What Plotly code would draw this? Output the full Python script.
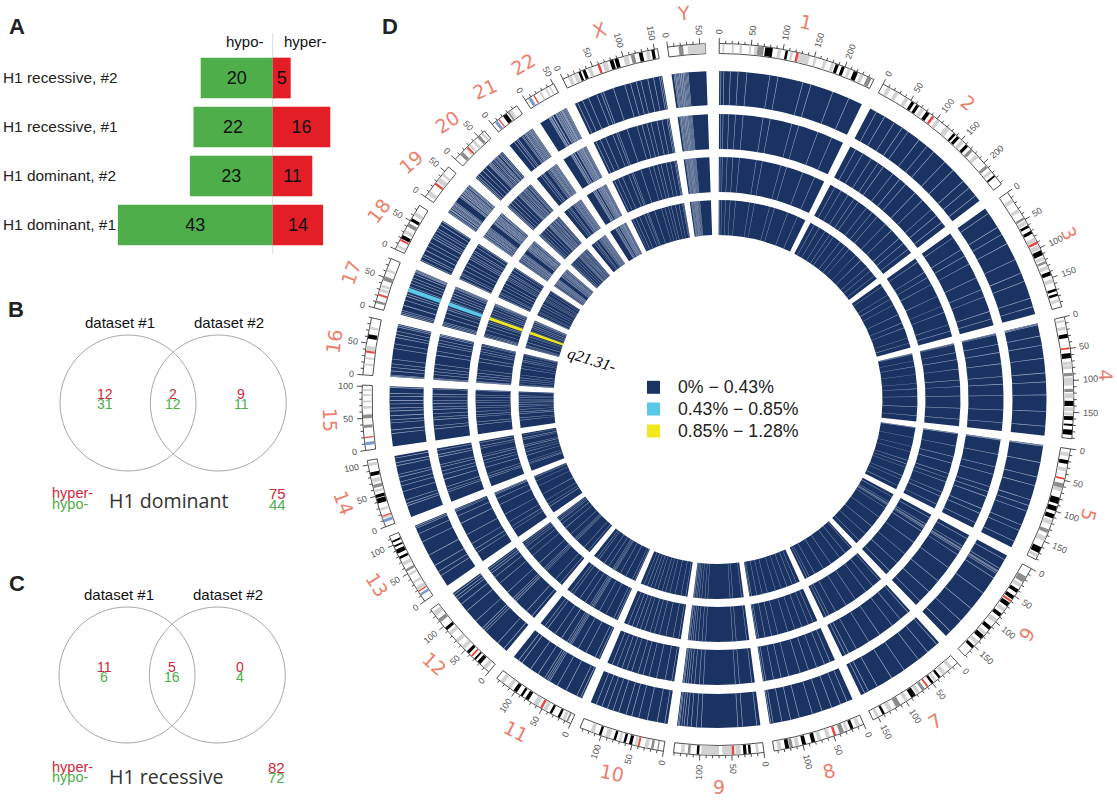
import math
import plotly.graph_objects as go

# ---------- Panel A ----------
bar_labels = ["H1 dominant, #1", "H1 dominant, #2", "H1 recessive, #1", "H1 recessive, #2"]
hypo_counts = [43, 23, 22, 20]
hyper_counts = [14, 11, 16, 5]

# ---------- Panels B, C ----------
venn_b_hyper = [12, 2, 9]
venn_b_hypo = [31, 12, 11]
venn_b_total = [75, 44]
venn_c_hyper = [11, 5, 0]
venn_c_hypo = [6, 16, 4]
venn_c_total = [82, 72]

# ---------- Panel D ----------
chrom_names = ["1","2","3","4","5","6","7","8","9","10","11","12","13","14","15","16","17","18","19","20","21","22","X","Y"]
chrom_sizes = [249,243,198,191,181,171,159,146,141,135,135,133,115,107,102,90,81,78,59,63,48,51,155,59]
chrom_label_rot = [13,40,63,88,105,122,-32,-15,0,12,27,42,58,70,88,-82,-70,-52,-42,-33,-24,-30,-17,-5]

band_black = [
 [[72,84],[104,108],[185,190],[195,200],[215,222]],
 [[52,57],[61,66],[80,86],[134,138],[141,146],[160,165],[225,228]],
 [[60,64],[70,75],[104,112],[140,146],[168,172],[176,180]],
 [[27,33],[57,65],[132,140],[156,162],[168,171],[177,185]],
 [[18,24],[78,88],[92,100],[105,112],[160,170]],
 [[38,44],[50,56],[63,70],[84,90],[110,116],[128,135],[150,155]],
 [[34,38],[48,52],[82,90],[138,142]],
 [[17,22],[80,86],[95,101],[122,128]],
 [[20,24],[27,32],[101,105]],
 [[50,55],[60,64],[76,80],[100,104]],
 [[19,23],[33,37],[75,81],[86,90],[97,103]],
 [[18,24],[28,31],[42,47],[92,97]],
 [[76,80],[85,92],[96,99],[104,107]],
 [[38,46],[47,52],[82,88]],
 [],
 [[57,64]],
 [],
 [[19,25],[50,55]],
 [],
 [],
 [[21,28]],
 [],
 [[26,30],[33,38],[78,84],[86,92],[125,131],[145,150]],
 [],
]
band_dark = [
 [[60,70],[238,245]],
 [[170,175],[205,210]],
 [[46,50],[122,126]],
 [[88,93],[113,118]],
 [[55,62],[130,136]],
 [[15,25]],
 [[65,70],[110,118]],
 [[33,40],[116,121]],
 [[115,119]],
 [[8,10],[16,20]],
 [[5,8]],
 [[108,114]],
 [[54,58]],
 [[63,68]],
 [[35,40],[50,56]],
 [],
 [[8,12],[45,52]],
 [[40,46]],
 [],
 [[10,16],[48,53]],
 [[30,33]],
 [],
 [[112,118]],
 [[17,24]],
]
band_light = [
 [[5,8],[20,23],[32,36],[47,50],[55,60],[92,97],[112,116],[125,143],[150,154],[165,170],[178,183],[205,210],[226,232]],
 [[8,14],[22,28],[40,46],[70,76],[100,106],[118,126],[150,156],[182,188],[215,220]],
 [[12,18],[30,36],[52,58],[82,88],[95,102],[115,120],[130,136],[152,158],[185,190]],
 [[4,8],[15,20],[70,75],[76,82],[95,108],[120,128],[142,148],[150,155]],
 [[6,12],[30,36],[62,68],[115,122],[142,150],[172,177]],
 [[28,34],[58,62],[74,80],[95,102],[122,126],[140,146]],
 [[10,16],[24,30],[42,46],[74,80],[96,102],[125,132],[148,153]],
 [[6,12],[26,30],[56,62],[70,76],[106,112],[134,140]],
 [[8,12],[36,44],[50,65],[70,98],[124,130]],
 [[24,30],[42,46],[68,72],[86,94],[112,118]],
 [[10,15],[42,48],[58,66],[108,114],[122,128]],
 [[6,12],[52,58],[66,72],[82,88],[120,128]],
 [[19,26],[32,36],[46,50],[64,70]],
 [[13,16],[26,30],[56,60],[72,78],[98,103]],
 [[65,69],[75,78],[85,88],[93,96]],
 [[15,18],[25,28],[38,46],[72,76]],
 [[27,32],[34,38],[60,64]],
 [[4,8],[28,34],[60,66]],
 [[5,12],[30,38],[42,46]],
 [[22,25],[30,33],[38,42],[56,60]],
 [[34,38]],
 [[25,28],[35,38],[42,45]],
 [[8,14],[18,24],[42,48],[66,74],[100,108],[136,142]],
 [[31,59]],
]
band_centromere = [[121,125],[91,95],[89,93],[48,51],[46,49],[58,61],[58,61],[46,50],[46,50],[38,41],[50,54],[35,38],[17,19],[16,18],[19,21],[35,38],[20,23],[15,18],[24,28],[25,28],[12,14],[14,16],[58,62]]
band_stalk_chrom = [12, 13, 14, 20, 21]
band_stalk = [[10,14],[7,12],[8,13],[5,10],[5,10]]

light_lines = [
 [3,8,19,32,47,86,100,143,157,196,225],
 [12,28,47,63,75,98,115,130,155,175,200,215,232],
 [10,38,52,70,100,125,140,170,185],
 [1,3,22,38,60,85,100,122,150,175],
 [1,2,30,55,70,95,105,115,140,150,170],
 [8,25,35,44,75,108,135,160],
 [5,25,45,75,100,128,145,152],
 [10,22,38,55,72,95,110,125,140,144],
 [6,30,38,100,108,117,124,129,133,137,139],
 [5,18,35,50,62,72,85,95,105,115,125],
 [3,10,30,47,62,65,68,72,85,100,118,125],
 [6,20,48,52,56,72,95,110,120,125,130],
 [20,28,40,60,85,100,110,113],
 [20,24,30,45,55,62,70,75,90,95,103],
 [22,28,40,45,52,60,65,72,78,85,90,100],
 [1,3,10,16,22,30,48,56,67,72,78,85,88],
 [2,5,8,17,26,33,37,50,56,61,66,72,76,78,80],
 [2,8,12,20,28,35,44,48,52,58,62,70,76],
 [1,3,6,7,10,11,13,15,17,18,20,22,33,35,36,39,40,42,44,45,47,49,50,52,55,56,58],
 [2,5,10,17,24,31,33,35,37,40,43,45,48,50,52,56,58,61],
 [10,15,18,26,28,31,33,34,36,38,40,42,43],
 [17,18,20,21,24,25,30,31,33,35,36,38,39,41,42,43,44,46,50],
 [5,14,25,40,48,52,70,90,100,110,118,130,140,150,153],
 [4,6,7,9,11,13,14,16,17,19,20,22,24,26,28],
]
dim_chrom = [5, 20, 21]
dim_bands = [[29,33],[44,48],[47,50]]

highlight_chrom = 16
highlight_band = [40.5, 48]
legend_labels = ["0% − 0.43%", "0.43% − 0.85%", "0.85% − 1.28%"]
legend_colors = ["#1b3362", "#5bc8e8", "#f2e81e"]

# ---------- layout constants ----------
W, H = 1117, 800
CX, CY, RMAX = 718, 399.5, 399
SCALE, GAP, START = 0.1035, 1.65, 0.2
RINGS = [(294.5, 328.5), (250.5, 285.5), (207.5, 242.5), (164.5, 199.5)]
IDEO = (346, 356)
RED, GREEN = "#e41e26", "#4dae4a"
LINE_RED, LINE_GREEN = "#d3263a", "#4dae4a"
SALMON = "#ec7f6c"
LINE_COLOR = "#a3b0c8"

starts, a = [], START
for s in chrom_sizes:
    starts.append(a)
    a += s * SCALE + GAP


def th(c, mb):
    return starts[c] + mb * SCALE


fig = go.Figure()


def polar_bars(items, r0, r1, color, outline=None):
    """items = (chrom, start_mb, end_mb)"""
    fig.add_trace(go.Barpolar(
        theta=[th(c, (s + e) / 2) for c, s, e in items],
        width=[(e - s) * SCALE for c, s, e in items],
        base=[r0] * len(items), r=[r1 - r0] * len(items),
        marker=dict(color=color, line=dict(width=0.8 if outline else 0, color=outline or color)),
        hoverinfo="skip", showlegend=False, subplot="polar"))


# rings
whole = [(i, 0, s) for i, s in enumerate(chrom_sizes)]
line_items = [(i, m - 0.55, m + 0.55) for i, ms in enumerate(light_lines) for m in ms]
dim_items = [(c, b[0], b[1]) for c, b in zip(dim_chrom, dim_bands)]
for idx, (r0, r1) in enumerate(RINGS):
    polar_bars(whole, r0, r1, legend_colors[0])
    polar_bars(line_items, r0, r1, LINE_COLOR)
    polar_bars(dim_items, r0, r1, "#6f7f9c")
    polar_bars([(highlight_chrom, highlight_band[0], highlight_band[1])], r0, r1,
               legend_colors[1] if idx < 2 else legend_colors[2])

# ideogram
polar_bars(whole, IDEO[0], IDEO[1], "white", outline="#222222")
i0, i1 = IDEO[0] + 0.5, IDEO[1] - 0.5
polar_bars([(i, s, e) for i, bs in enumerate(band_light) for s, e in bs], i0, i1, "#d2d2d2")
polar_bars([(i, s, e) for i, bs in enumerate(band_dark) for s, e in bs], i0, i1, "#8c8c8c")
polar_bars([(i, s, e) for i, bs in enumerate(band_black) for s, e in bs], i0, i1, "#000000")
polar_bars([(c, b[0], b[1]) for c, b in zip(band_stalk_chrom, band_stalk)], i0, i1, "#7f9cc8")
polar_bars([(i, b[0], b[1]) for i, b in enumerate(band_centromere)], i0, i1, "#e8483f")

# ideogram ticks
tr, tt = [], []
for i, s in enumerate(chrom_sizes):
    for mb in range(0, s + 1, 10):
        tr += [IDEO[1], IDEO[1] + (5.5 if mb % 50 == 0 else 2.8), None]
        tt += [th(i, mb), th(i, mb), None]
fig.add_trace(go.Scatterpolar(r=tr, theta=tt, mode="lines", line=dict(color="#222222", width=0.8),
                              hoverinfo="skip", showlegend=False, subplot="polar"))

# Panel A bars
fig.add_trace(go.Bar(y=bar_labels, x=[-v for v in hypo_counts], orientation="h", width=0.83,
                     marker=dict(color=GREEN, line=dict(width=0)), text=[str(v) for v in hypo_counts],
                     textposition="inside", insidetextanchor="middle", textangle=0,
                     textfont=dict(size=18, color="#111111", family="Liberation Sans"),
                     hoverinfo="skip", showlegend=False, xaxis="x", yaxis="y"))
fig.add_trace(go.Bar(y=bar_labels, x=hyper_counts, orientation="h", width=0.83,
                     marker=dict(color=RED, line=dict(width=0)), text=[str(v) for v in hyper_counts],
                     textposition="inside", insidetextanchor="middle", textangle=0,
                     textfont=dict(size=18, color="#111111", family="Liberation Sans"),
                     hoverinfo="skip", showlegend=False, xaxis="x", yaxis="y"))

# Legend keys on overlay axes
legend_y = [387.3, 409, 431]
fig.add_trace(go.Scatter(x=[653.5] * 3, y=legend_y, mode="markers",
                         marker=dict(symbol="square", size=13, color=legend_colors, line=dict(width=0)),
                         hoverinfo="skip", showlegend=False, xaxis="x2", yaxis="y2"))

annotations = []


def note(x, y, text, size, color="#111111", family="Liberation Sans", rot=0, anchor="center", **fontkw):
    annotations.append(dict(x=x / W, y=1 - y / H, xref="paper", yref="paper", text=text, showarrow=False,
                            xanchor=anchor, yanchor="middle", textangle=rot, borderpad=0,
                            font=dict(size=size, color=color, family=family, **fontkw)))


def polar_xy(r, theta):
    t = math.radians(theta)
    return CX + r * math.sin(t), CY - r * math.cos(t)


# chromosome & tick labels
for i, s in enumerate(chrom_sizes):
    mid = th(i, s / 2)
    x, y = polar_xy(388, mid)
    note(x, y, chrom_names[i], 19, SALMON, "DejaVu Sans", rot=chrom_label_rot[i])
    for mb in range(0, s + 1, 50):
        t = th(i, mb)
        lab = str(mb)
        x, y = polar_xy(365 + len(lab) * 2.6, t)
        note(x, y, lab, 9, "#555555", rot=(t - 90 if t < 180 else t - 270))

note(591, 360, "q21.31-", 16, "#000000", "Liberation Serif", rot=17, style="italic")
for lab, y in zip(legend_labels, legend_y):
    note(676.5, y, lab, 17.7, "#222222", anchor="left")

# panel letters
for t, x, y in [("A", 17, 27), ("B", 16, 310), ("C", 17, 583), ("D", 390, 27)]:
    note(x, y, "<b>%s</b>" % t, 22, "#222222")
note(245, 41, "hypo-", 15)
note(305, 41, "hyper-", 15)

# Venn panels
venn_sets = [
    (403, 322, 394, 404, 493, 504, 500.5, "H1 dominant", venn_b_hyper, venn_b_hypo, venn_b_total, 128, 218.3, 120, 229, [105, 173, 241], 277),
    (675, 594, 667, 677, 767, 777, 776, "H1 recessive", venn_c_hyper, venn_c_hypo, venn_c_total, 127, 217.3, 119, 228, [104, 172, 240], 276),
]
shapes = [dict(type="line", xref="x", yref="paper", x0=0, x1=0, y0=1 - 33 / H, y1=1 - 254 / H,
               line=dict(color="#dddddd", width=1), layer="below")]
for cy, ty, hy, gy, ly1, ly2, ty2, title, vh, vg, tot, c1, c2, d1, d2, xs, xr in venn_sets:
    for cx in (c1, c2):
        shapes.append(dict(type="circle", xref="x2", yref="y2", x0=cx - 68, x1=cx + 68, y0=cy - 68, y1=cy + 68,
                           line=dict(color="#a8a8a8", width=1), fillcolor="rgba(0,0,0,0)"))
    note(d1, ty, "dataset #1", 15)
    note(d2, ty, "dataset #2", 15)
    for x, a1, a2 in zip(xs, vh, vg):
        note(x, hy, str(a1), 14, LINE_RED)
        note(x, gy, str(a2), 14, LINE_GREEN)
    note(51, ly1, "hyper-", 14.5, LINE_RED, anchor="left")
    note(51, ly2, "hypo-", 14.5, LINE_GREEN, anchor="left")
    note(107.5, ty2, title, 19.6, "#333333", "Open Sans", anchor="left")
    note(xr, ly1, str(tot[0]), 15, LINE_RED)
    note(xr, ly2, str(tot[1]), 15, LINE_GREEN)

PX0, PX1 = 272.7, 3.6
fig.update_layout(
    width=W, height=H, margin=dict(l=0, r=0, t=0, b=0), paper_bgcolor="white", plot_bgcolor="rgba(0,0,0,0)",
    showlegend=False, barmode="overlay", annotations=annotations, shapes=shapes,
    font=dict(family="Liberation Sans"),
    xaxis=dict(domain=[0, 370 / W], range=[-PX0 / PX1, (370 - PX0) / PX1], visible=False, fixedrange=True),
    yaxis=dict(domain=[1 - 254 / H, 1 - 33 / H], range=[-29 / 49, 3 + 45 / 49], type="category",
               categoryorder="array", categoryarray=bar_labels, showgrid=False, showline=False, zeroline=False,
               ticks="", ticklabelposition="inside", tickfont=dict(size=15.4, color="#222222"), fixedrange=True),
    xaxis2=dict(domain=[0, 1], range=[0, W], visible=False, fixedrange=True),
    yaxis2=dict(domain=[0, 1], range=[H, 0], visible=False, fixedrange=True, anchor="x2"),
    polar=dict(
        domain=dict(x=[(CX - RMAX) / W, (CX + RMAX) / W], y=[1 - (CY + RMAX) / H, 1 - (CY - RMAX) / H]),
        bgcolor="rgba(0,0,0,0)", barmode="overlay",
        radialaxis=dict(range=[0, RMAX], visible=False),
        angularaxis=dict(direction="clockwise", rotation=90, visible=False, thetaunit="degrees"),
    ),
)
fig.write_html("out.html", config={"displayModeBar": False},
               post_script="document.body.style.margin='0';document.documentElement.style.overflow='hidden';")
